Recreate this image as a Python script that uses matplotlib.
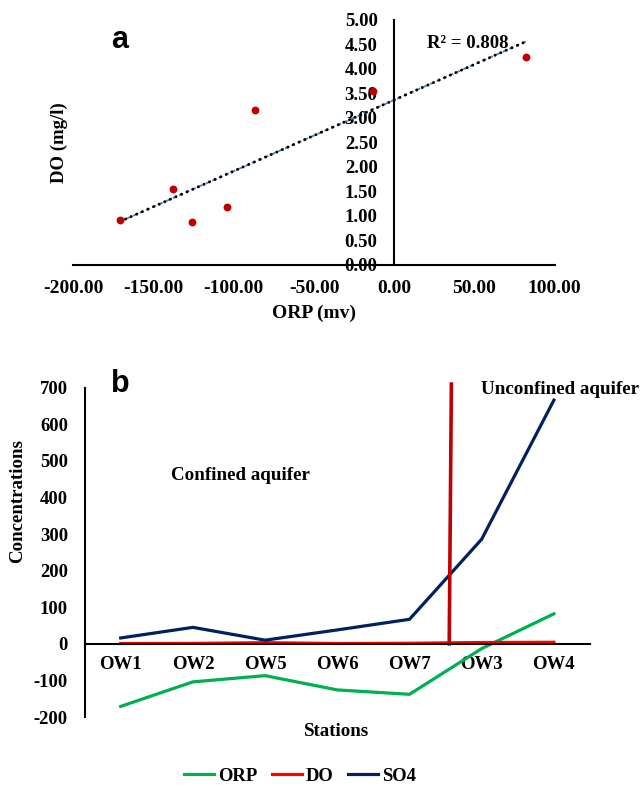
import numpy as np
import matplotlib.pyplot as plt
from matplotlib.ticker import FormatStrFormatter

plt.rcParams['font.family'] = ['Liberation Serif', 'DejaVu Serif']
plt.rcParams['font.weight'] = 'bold'
plt.rcParams['axes.unicode_minus'] = False

# Sampling stations, in the order they are plotted
stations = ["OW1", "OW2", "OW5", "OW6", "OW7", "OW3", "OW4"]
orp = [-171, -104, -87, -126, -138, -13, 82]        # mv
do = [0.92, 1.17, 3.15, 0.87, 1.54, 3.55, 4.25]     # mg/l
so4 = [16, 45, 10, 38, 67, 286, 666]                # mg/l
r2_label = 0.808

# Boundary between the confined and unconfined aquifer stations
divider_x = [4.55, 4.58]
divider_y = [0, 710]

W, H = 643, 785
fig = plt.figure(figsize=(W / 100, H / 100), dpi=100)

# ---- a: DO against ORP with a linear trend line ----
ax1 = fig.add_axes([73.3 / W, 1 - 264.5 / H, 481.4 / W, 244.5 / H])
ax1.scatter(orp, do, s=32, color="#C00000", zorder=3, linewidths=0)

slope, intercept = np.polyfit(orp, do, 1)
xs = np.linspace(min(orp), max(orp), 100)
ax1.plot(xs, slope * xs + intercept, color="#4F81BD", lw=1.3, ls=(0, (2, 2)))
ax1.plot(xs, slope * xs + intercept, color="black", lw=2.1,
         ls=(0, (0.1, 2.0)), dash_capstyle="round")

ax1.set_xlim(-200, 100)
ax1.set_ylim(0, 5)
ax1.set_xticks(np.arange(-200, 101, 50))
ax1.set_yticks(np.arange(0, 5.01, 0.5))
ax1.xaxis.set_major_formatter(FormatStrFormatter("%.2f"))
ax1.yaxis.set_major_formatter(FormatStrFormatter("%.2f"))
ax1.spines["left"].set_position(("data", 0))
ax1.spines["bottom"].set_position(("data", 0))
for s in ["top", "right"]:
    ax1.spines[s].set_visible(False)
for s in ["left", "bottom"]:
    ax1.spines[s].set_linewidth(1.5)
ax1.tick_params(axis="x", length=0, pad=11, labelsize=14)
ax1.tick_params(axis="y", length=0, pad=12, labelsize=13.5)
ax1.text(468 / W, 1 - 43 / H, "R\u00b2 = %.3f" % r2_label, transform=fig.transFigure,
         ha="center", va="center", fontsize=13.5)
fig.text(59 / W, 1 - 143 / H, "DO (mg/l)", rotation=90, ha="center", va="center", fontsize=13.5)
fig.text(314 / W, 1 - 313 / H, "ORP (mv)", ha="center", va="center", fontsize=14)
fig.text(120 / W, 1 - 40 / H, "a", family="Liberation Sans", fontsize=22,
         ha="center", va="center")

# ---- b: ORP, DO and SO4 along the stations ----
ax2 = fig.add_axes([84.6 / W, 1 - 717 / H, 505.4 / W, 329.3 / H])
pos = np.arange(len(stations))
ax2.plot(pos, orp, color="#00B050", lw=2.3, label="ORP")
ax2.plot(pos, do, color="#FF0000", lw=2.3, label="DO")
ax2.plot(pos, so4, color="#002060", lw=2.3, label="SO4")
ax2.plot(divider_x, divider_y, color="#C00000", lw=2.6, clip_on=False)

ax2.set_xlim(-0.5, 6.5)
ax2.set_ylim(-200, 700)
ax2.set_xticks(pos)
ax2.set_xticklabels(stations)
ax2.set_yticks(np.arange(-200, 701, 100))
ax2.spines["bottom"].set_position(("data", 0))
for s in ["top", "right"]:
    ax2.spines[s].set_visible(False)
for s in ["left", "bottom"]:
    ax2.spines[s].set_linewidth(1.5)
ax2.tick_params(axis="x", length=0, pad=9, labelsize=13.5)
ax2.tick_params(axis="y", length=0, pad=12, labelsize=13.4)

fig.text(240 / W, 1 - 475 / H, "Confined aquifer", ha="center", va="center", fontsize=13.7)
fig.text(560 / W, 1 - 389 / H, "Unconfined aquifer", ha="center", va="center", fontsize=13.7)
fig.text(337 / W, 1 - 731 / H, "Stations", ha="center", va="center", fontsize=13.6)
fig.text(18 / W, 1 - 501 / H, "Concentrations", rotation=90, ha="center", va="center",
         fontsize=13.6)
fig.text(120 / W, 1 - 384 / H, "b", family="Liberation Sans", fontsize=22,
         ha="center", va="center")

fig.legend(loc="center", bbox_to_anchor=(300 / W, 1 - 776 / H), ncol=3, frameon=False,
           fontsize=13.4, handlelength=1.6, handletextpad=0.2, columnspacing=0.8)

fig.savefig("out.png", dpi=100)
